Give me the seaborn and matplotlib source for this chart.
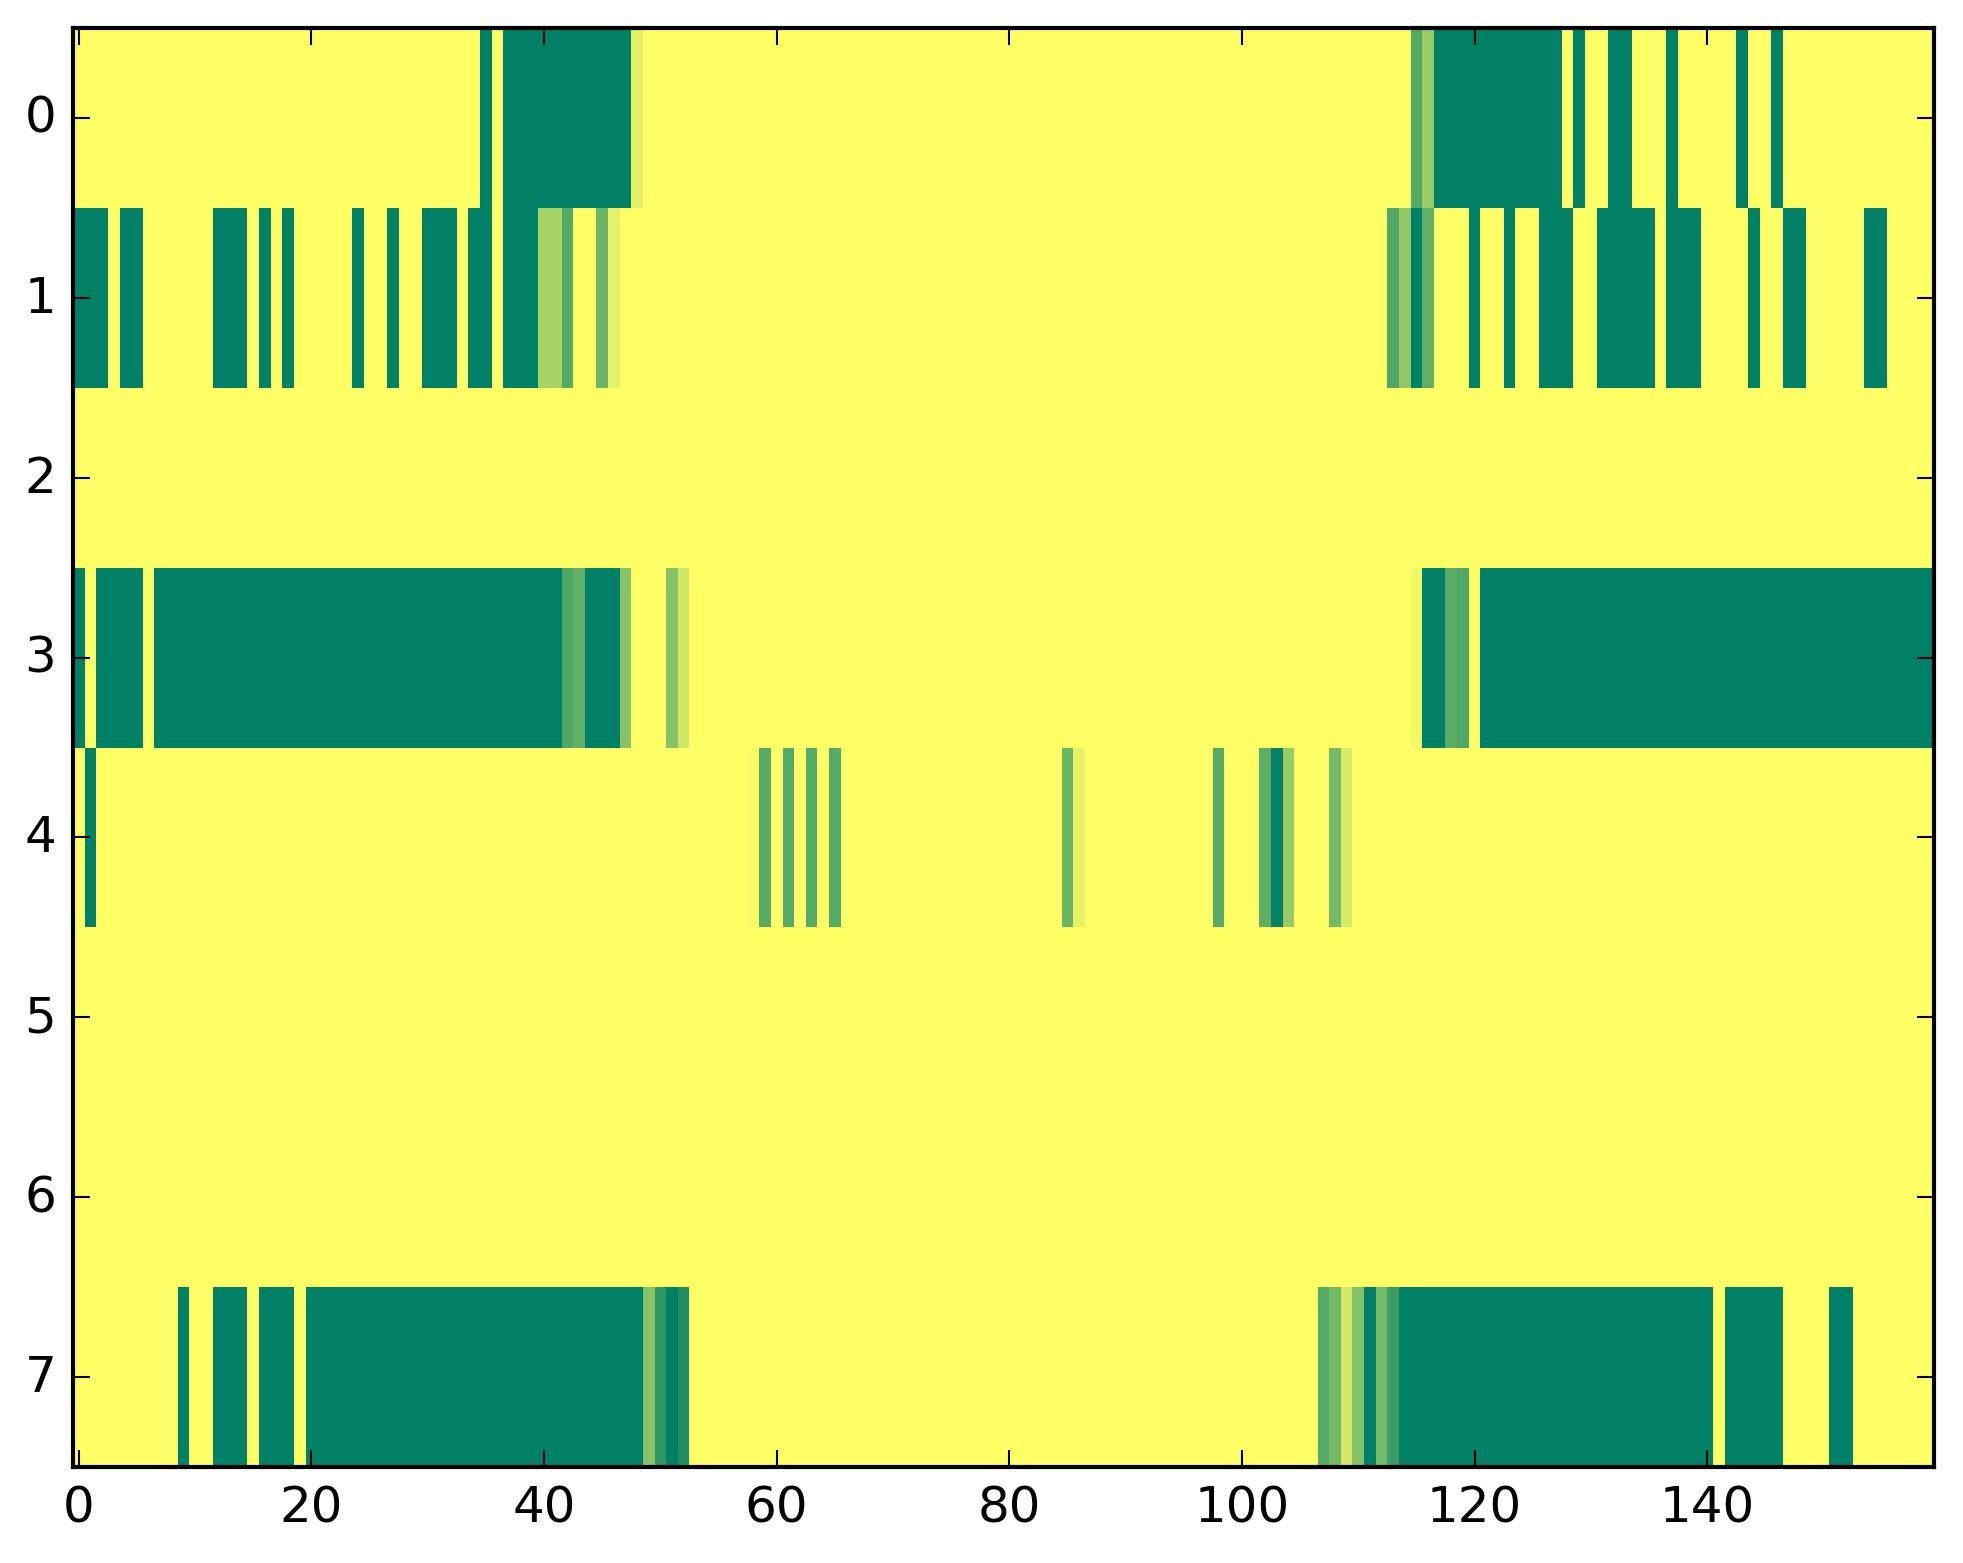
import numpy as np
import pandas as pd
import matplotlib
matplotlib.use('Agg')
import matplotlib.pyplot as plt
import seaborn as sns

# cell values per row (0 = green, 1 = yellow on the summer colormap)
row0 = [1, 1, 1, 1, 1, 1, 1, 1, 1, 1, 1, 1, 1, 1, 1, 1, 1, 1, 1, 1,
        1, 1, 1, 1, 1, 1, 1, 1, 1, 1, 1, 1, 1, 1, 1, 0, 1, 0, 0, 0,
        0, 0, 0, 0, 0, 0, 0, 0, .88, 1, 1, 1, 1, 1, 1, 1, 1, 1, 1, 1,
        1, 1, 1, 1, 1, 1, 1, 1, 1, 1, 1, 1, 1, 1, 1, 1, 1, 1, 1, 1,
        1, 1, 1, 1, 1, 1, 1, 1, 1, 1, 1, 1, 1, 1, 1, 1, 1, 1, 1, 1,
        1, 1, 1, 1, 1, 1, 1, 1, 1, 1, 1, 1, 1, 1, 1, .33, .6, 0, 0, 0,
        0, 0, 0, 0, 0, 0, 0, 0, 1, 0, 1, 1, 0, 0, 1, 1, 1, 0, 1, 1,
        1, 1, 1, 0, 1, 1, 0, 1, 1, 1, 1, 1, 1, 1, 1, 1, 1, 1, 1, 1]
row1 = [0, 0, 0, 1, 0, 0, 1, 1, 1, 1, 1, 1, 0, 0, 0, 1, 0, 1, 0, 1,
        1, 1, 1, 1, 0, 1, 1, 0, 1, 1, 0, 0, 0, 1, 0, 0, 1, 0, 0, 0,
        .65, .65, .33, 1, 1, .42, .89, 1, 1, 1, 1, 1, 1, 1, 1, 1, 1, 1, 1, 1,
        1, 1, 1, 1, 1, 1, 1, 1, 1, 1, 1, 1, 1, 1, 1, 1, 1, 1, 1, 1,
        1, 1, 1, 1, 1, 1, 1, 1, 1, 1, 1, 1, 1, 1, 1, 1, 1, 1, 1, 1,
        1, 1, 1, 1, 1, 1, 1, 1, 1, 1, 1, 1, 1, .32, .57, 0, .38, 1, 1, 1,
        0, 1, 1, 0, 1, 1, 0, 0, 0, 1, 1, 0, 0, 0, 0, 0, 1, 0, 0, 0,
        1, 1, 1, 1, 0, 1, 1, 0, 0, 1, 1, 1, 1, 1, 0, 0, 1, 1, 1, 1]
row2 = [1, 1, 1, 1, 1, 1, 1, 1, 1, 1, 1, 1, 1, 1, 1, 1, 1, 1, 1, 1,
        1, 1, 1, 1, 1, 1, 1, 1, 1, 1, 1, 1, 1, 1, 1, 1, 1, 1, 1, 1,
        1, 1, 1, 1, 1, 1, 1, 1, 1, 1, 1, 1, 1, 1, 1, 1, 1, 1, 1, 1,
        1, 1, 1, 1, 1, 1, 1, 1, 1, 1, 1, 1, 1, 1, 1, 1, 1, 1, 1, 1,
        1, 1, 1, 1, 1, 1, 1, 1, 1, 1, 1, 1, 1, 1, 1, 1, 1, 1, 1, 1,
        1, 1, 1, 1, 1, 1, 1, 1, 1, 1, 1, 1, 1, 1, 1, 1, 1, 1, 1, 1,
        1, 1, 1, 1, 1, 1, 1, 1, 1, 1, 1, 1, 1, 1, 1, 1, 1, 1, 1, 1,
        1, 1, 1, 1, 1, 1, 1, 1, 1, 1, 1, 1, 1, 1, 1, 1, 1, 1, 1, 1]
row3 = [0, 1, 0, 0, 0, 0, 1, 0, 0, 0, 0, 0, 0, 0, 0, 0, 0, 0, 0, 0,
        0, 0, 0, 0, 0, 0, 0, 0, 0, 0, 0, 0, 0, 0, 0, 0, 0, 0, 0, 0,
        0, 0, .31, .38, 0, 0, 0, .53, 1, 1, 1, .53, .8, 1, 1, 1, 1, 1, 1, 1,
        1, 1, 1, 1, 1, 1, 1, 1, 1, 1, 1, 1, 1, 1, 1, 1, 1, 1, 1, 1,
        1, 1, 1, 1, 1, 1, 1, 1, 1, 1, 1, 1, 1, 1, 1, 1, 1, 1, 1, 1,
        1, 1, 1, 1, 1, 1, 1, 1, 1, 1, 1, 1, 1, 1, 1, .95, 0, 0, .35, .32,
        1, 0, 0, 0, 0, 0, 0, 0, 0, 0, 0, 0, 0, 0, 0, 0, 0, 0, 0, 0,
        0, 0, 0, 0, 0, 0, 0, 0, 0, 0, 0, 0, 0, 0, 0, 0, 0, 0, 0, 0]
row4 = [1, 0, 1, 1, 1, 1, 1, 1, 1, 1, 1, 1, 1, 1, 1, 1, 1, 1, 1, 1,
        1, 1, 1, 1, 1, 1, 1, 1, 1, 1, 1, 1, 1, 1, 1, 1, 1, 1, 1, 1,
        1, 1, 1, 1, 1, 1, 1, 1, 1, 1, 1, 1, 1, 1, 1, 1, 1, 1, .97, .34,
        1, .33, 1, .33, 1, .33, 1, 1, 1, 1, 1, 1, 1, 1, 1, 1, 1, 1, 1, 1,
        1, 1, 1, 1, 1, .42, .9, 1, 1, 1, 1, 1, 1, 1, 1, 1, 1, 1, .34, 1,
        1, 1, .37, .02, .59, 1, 1, 1, .46, .84, 1, 1, 1, 1, 1, 1, 1, 1, 1, 1,
        1, 1, 1, 1, 1, 1, 1, 1, 1, 1, 1, 1, 1, 1, 1, 1, 1, 1, 1, 1,
        1, 1, 1, 1, 1, 1, 1, 1, 1, 1, 1, 1, 1, 1, 1, 1, 1, 1, 1, 1]
row5 = list(row2)
row6 = list(row2)
row7 = [1, 1, 1, 1, 1, 1, 1, 1, 1, 0, 1, 1, 0, 0, 0, 1, 0, 0, 0, 1,
        0, 0, 0, 0, 0, 0, 0, 0, 0, 0, 0, 0, 0, 0, 0, 0, 0, 0, 0, 0,
        0, 0, 0, 0, 0, 0, 0, 0, 0, .52, .18, 0, .12, 1, 1, 1, 1, 1, 1, 1,
        1, 1, 1, 1, 1, 1, 1, 1, 1, 1, 1, 1, 1, 1, 1, 1, 1, 1, 1, 1,
        1, 1, 1, 1, 1, 1, 1, 1, 1, 1, 1, 1, 1, 1, 1, 1, 1, 1, 1, 1,
        1, 1, 1, 1, 1, 1, 1, .33, .45, .83, .52, 0, .46, .23, 0, 0, 0, 0, 0, 0,
        0, 0, 0, 0, 0, 0, 0, 0, 0, 0, 0, 0, 0, 0, 0, 0, 0, 0, 0, 0,
        0, 1, 0, 0, 0, 0, 0, 1, 1, 1, 1, 0, 0, 1, 1, 1, 1, 1, 1, 1]

xtick_labels = ['0', '20', '40', '60', '80', '100', '120', '140']
ytick_labels = ['0', '1', '2', '3', '4', '5', '6', '7']

data = pd.DataFrame([row0, row1, row2, row3, row4, row5, row6, row7])

plt.style.use('classic')
W, H, DPI = 1963, 1564, 300
fig = plt.figure(figsize=(W / DPI, H / DPI), dpi=DPI, facecolor='white')
ax = fig.add_axes([73 / W, 1 - 1468 / H, (1934 - 73) / W, (1468 - 29) / H])

sns.heatmap(data, cmap='summer', vmin=0, vmax=1, cbar=False, ax=ax,
            xticklabels=False, yticklabels=False)

ax.set_xticks(np.arange(0, 160, 20) + 0.5)
ax.set_xticklabels(xtick_labels, rotation=0, fontsize=12)
ax.set_yticks(np.arange(8) + 0.5)
ax.set_yticklabels(ytick_labels, rotation=0, fontsize=12, va='center')
ax.set_xlabel('')
ax.set_ylabel('')

for s in ax.spines.values():
    s.set_visible(True)
    s.set_linewidth(1.0)
    s.set_color('black')

ax.tick_params(direction='in', length=4, width=0.5, top=True, right=True,
               bottom=True, left=True, labeltop=False, labelright=False)

fig.savefig('out.png', dpi=DPI, facecolor='white')
